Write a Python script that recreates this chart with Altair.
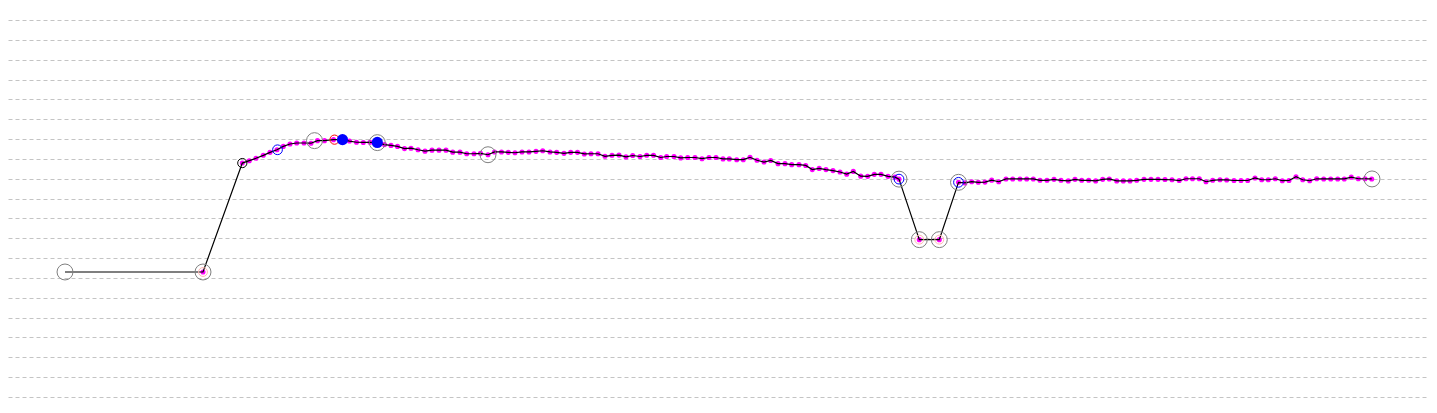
import altair as alt
import pandas as pd

# ---- main series: x position (time-like units), value ----
line_x = [65, 203, 242.3,
          249.3, 256, 263.3, 270, 277, 283.3, 290, 296.7, 304, 311, 317.5, 324.5, 333.5, 342.5,
          349.5, 356.5, 363.3, 370, 377.3, 384.5, 391, 397.5, 404.5, 411, 418, 425, 432, 439,
          446, 452.7, 460, 466.7, 474, 480.5, 488, 494.5, 501.5, 508.3, 515, 522, 529, 536,
          542.7, 550, 556.7, 564, 570.7, 577.5, 584.3, 591, 598, 605, 612, 619, 626, 632.7,
          640, 646.7, 653.5, 660.7, 666.7, 674, 680.7, 687.7, 695, 702, 709, 716, 723, 729.3,
          736.7, 743.3, 750, 757, 764, 770.7, 778, 785, 791.7, 799, 805.7, 812.3, 819.2, 826,
          833, 840, 846.7, 853.3, 860.7, 867.7, 874.3, 881, 888, 895, 899,
          919.3, 939.3,
          958.5, 965, 971.7, 978.3, 985, 991.7, 998.7, 1006, 1012.7, 1020, 1026.7, 1033.3,
          1040, 1047, 1054, 1061, 1068.3, 1075, 1081.7, 1088.7, 1095.7, 1102.7, 1109.3, 1116.7,
          1123.3, 1130, 1136.7, 1144, 1151, 1158, 1165, 1172, 1179.2, 1186, 1192.5, 1199.3,
          1206, 1212.7, 1220, 1226.7, 1234, 1241, 1247.7, 1255, 1261.7, 1268.3, 1275.3, 1282.3,
          1289, 1296, 1302.7, 1309.7, 1316.7, 1323.7, 1330.7, 1337.7, 1344.3, 1351.3, 1358.3,
          1365, 1371.7]
line_v = [6.30, 6.30, 11.79,
          11.91, 12.03, 12.18, 12.33, 12.46, 12.63, 12.75, 12.80, 12.80, 12.79, 12.92, 12.92, 12.97, 12.97,
          12.90, 12.84, 12.83, 12.84, 12.82, 12.72, 12.68, 12.63, 12.52, 12.54, 12.46, 12.39, 12.44, 12.44,
          12.44, 12.34, 12.34, 12.26, 12.26, 12.28, 12.21, 12.35, 12.35, 12.33, 12.31, 12.35, 12.35, 12.38,
          12.41, 12.35, 12.33, 12.28, 12.33, 12.33, 12.25, 12.26, 12.26, 12.13, 12.18, 12.19, 12.10, 12.17,
          12.12, 12.18, 12.18, 12.07, 12.12, 12.12, 12.05, 12.07, 12.07, 12.01, 12.07, 12.07, 12.00, 12.00,
          11.96, 11.96, 12.08, 11.93, 11.84, 11.92, 11.76, 11.76, 11.71, 11.71, 11.67, 11.46, 11.52, 11.46,
          11.41, 11.34, 11.23, 11.37, 11.13, 11.12, 11.22, 11.22, 11.12, 11.08, 10.98,
          7.93, 7.93,
          10.82, 10.79, 10.85, 10.82, 10.83, 10.93, 10.85, 10.99, 10.99, 10.99, 10.99, 10.99,
          10.92, 10.92, 10.97, 10.92, 10.89, 10.97, 10.92, 10.92, 10.89, 10.97, 10.99, 10.89,
          10.89, 10.89, 10.92, 10.97, 10.97, 10.97, 10.96, 10.95, 10.91, 11.00, 11.00, 11.00,
          10.85, 10.92, 10.95, 10.94, 10.91, 10.91, 10.91, 11.04, 10.95, 10.95, 11.00, 10.90,
          10.91, 11.10, 10.95, 10.90, 11.00, 10.99, 10.99, 10.99, 10.99, 11.08, 11.00,
          11.00, 10.99]

# ---- highlight markers ----
grey_x = [65, 203, 314.5, 377.3, 488, 899, 919.3, 939.3, 958.5, 1372]
grey_v = [6.30, 6.30, 12.92, 12.82, 12.21, 10.98, 7.93, 7.93, 10.82, 10.99]
pink_x = [203, 919.3, 939.3]
pink_v = [6.30, 7.93, 7.93]
black_x = [242.3]
black_v = [11.79]
blue_ring_x = [277.5, 899, 958.5]
blue_ring_v = [12.46, 10.98, 10.82]
red_x = [334.5]
red_v = [12.97]
blue_fill_x = [342.5, 377.3]
blue_fill_v = [12.97, 12.83]

grid_values = list(range(0, 20))

main = pd.DataFrame({"x": line_x, "v": line_v})
dots = main.iloc[1:]

X = alt.X("x:Q", scale=alt.Scale(domain=[8, 1429], nice=False, zero=False), axis=None)
Y = alt.Y("v:Q", scale=alt.Scale(domain=[0, 19], nice=False, zero=False),
          axis=alt.Axis(values=grid_values, grid=True, gridDash=[4, 3], gridColor="#c4c4c4",
                        gridWidth=1, labels=False, ticks=False, domain=False, title=None))

def df(xs, vs):
    return pd.DataFrame({"x": xs, "v": vs})

grid_layer = alt.Chart(main).mark_point(opacity=0).encode(x=X, y=Y)
dot_layer = alt.Chart(dots).mark_circle(color="#ff00ff", opacity=1, size=26).encode(x=X, y=Y)
line_layer = alt.Chart(main).mark_line(color="black", strokeWidth=1.2).encode(x=X, y=Y, order="x:Q")
grey_layer = alt.Chart(df(grey_x, grey_v)).mark_point(shape="circle", color="#808080", size=254,
                                                        strokeWidth=1, filled=False, opacity=1).encode(x=X, y=Y)
pink_layer = alt.Chart(df(pink_x, pink_v)).mark_point(shape="circle", color="#ffb4b4", size=79,
                                                        strokeWidth=1, filled=False, opacity=1).encode(x=X, y=Y)
black_layer = alt.Chart(df(black_x, black_v)).mark_point(shape="circle", color="black", size=85,
                                                           strokeWidth=1, filled=False, opacity=1).encode(x=X, y=Y)
blue_ring_layer = alt.Chart(df(blue_ring_x, blue_ring_v)).mark_point(shape="circle", color="#0000ff", size=95,
                                                                       strokeWidth=1, filled=False, opacity=1).encode(x=X, y=Y)
red_layer = alt.Chart(df(red_x, red_v)).mark_point(shape="circle", color="#ff0000", size=85,
                                                     strokeWidth=1, filled=False, opacity=1).encode(x=X, y=Y)
blue_fill_layer = alt.Chart(df(blue_fill_x, blue_fill_v)).mark_circle(color="#0000ff", opacity=1,
                                                                        size=125).encode(x=X, y=Y)

chart = alt.layer(
    grid_layer, dot_layer, line_layer, grey_layer, pink_layer, black_layer,
    blue_ring_layer, red_layer, blue_fill_layer
).properties(
    width=1421, height=377,
    padding={"top": 12, "left": 0, "right": 0, "bottom": 3},
    autosize=alt.AutoSizeParams(type="none"),
).configure_view(stroke=None)

chart.save("out.html", embed_options={"renderer": "svg", "actions": False})
